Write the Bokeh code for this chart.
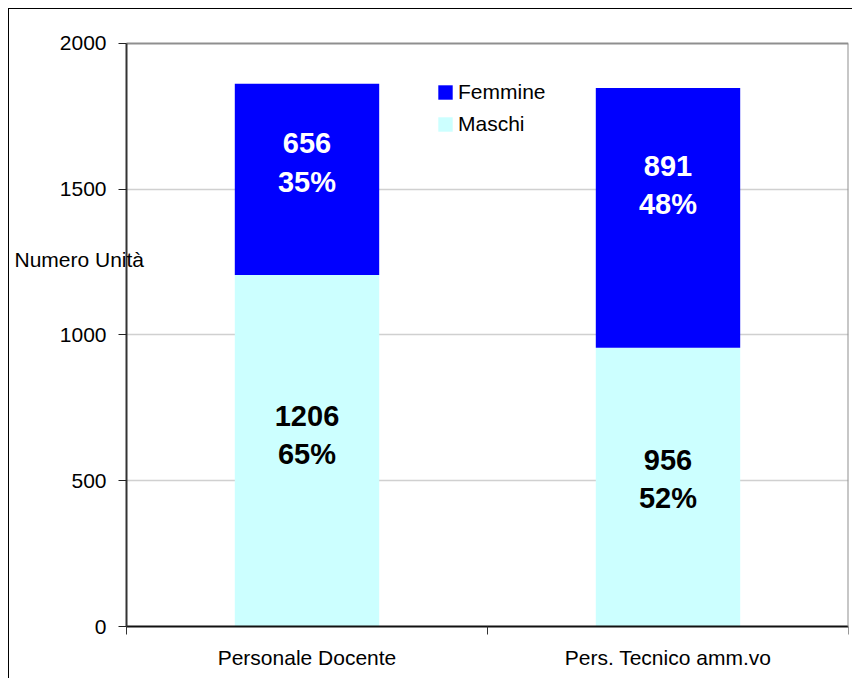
from bokeh.plotting import figure
from bokeh.models import (ColumnDataSource, FixedTicker, Legend, LegendItem, Label,
                          Range1d, LinearAxis)
from bokeh.core.properties import value
from bokeh.embed import file_html
from bokeh.resources import INLINE

categories = ["Personale Docente", "Pers. Tecnico amm.vo"]
maschi = [1206, 956]
femmine = [656, 891]
maschi_pct = ["65%", "52%"]
femmine_pct = ["35%", "48%"]
y_ticks = [0, 500, 1000, 1500, 2000]
y_max = 2000

FONT = "Liberation Sans"
C_M = "#CCFFFF"
C_F = "#0000FF"
AXIS_GRAY = "#8f8f8f"

n = len(categories)
xc = [i + 0.5 for i in range(n)]
src = ColumnDataSource(dict(x=xc, maschi=maschi, femmine=femmine))

# the frame covers the whole canvas; axes are pinned at x=0 / y=0 inside it
p = figure(width=844, height=670,
           x_range=Range1d(-0.3241, n), y_range=Range1d(-181.8, 2116.6),
           output_backend="svg", toolbar_location=None,
           min_border_left=0, min_border_right=5, min_border_top=0, min_border_bottom=0)
p.styles = {"margin-left": "8px", "margin-top": "8px",
            "border-left": "1px solid #000", "border-top": "1px solid #000"}
p.outline_line_color = None

r = p.vbar_stack(["maschi", "femmine"], x="x", width=0.4, source=src,
                 fill_color=[C_M, C_F], line_color=None)

# value labels
lab = ColumnDataSource(dict(
    x=xc + xc,
    y=[m / 2 for m in maschi] + [m + f / 2 for m, f in zip(maschi, femmine)],
    text=[f"{m}\n{pc}" for m, pc in zip(maschi, maschi_pct)] +
         [f"{f}\n{pc}" for f, pc in zip(femmine, femmine_pct)],
    color=["#000000"] * len(maschi) + ["#FFFFFF"] * len(femmine),
    dy=[-16, -8, -17, -33],
))
p.text(x="x", y="y", text="text", source=lab, text_color="color",
       text_font=value(FONT), text_font_size="29px", text_font_style="bold",
       text_align="center", text_baseline="middle", y_offset="dy",
       text_line_height=1.2)

# x axis (categories at centers, separators as minor ticks)
xa = p.xaxis[0]
xa.fixed_location = 0
xa.ticker = FixedTicker(ticks=xc, minor_ticks=list(range(n + 1)))
xa.major_label_overrides = {xi: c for xi, c in zip(xc, categories)}
xa.bounds = (0, n)
xa.major_tick_out = 0
xa.major_tick_in = 0
xa.minor_tick_out = 8
xa.minor_tick_in = 0
xa.minor_tick_line_color = "#333333"
xa.axis_line_color = "#111111"
xa.axis_line_width = 2
xa.major_label_standoff = 11
xa.major_label_text_font = FONT
xa.major_label_text_font_size = "21px"
xa.major_label_text_color = "#000000"

# y axis fixed at x = 0
ya = p.yaxis[0]
ya.fixed_location = 0
ya.bounds = (0, y_max)
ya.ticker = FixedTicker(ticks=y_ticks)
ya.major_tick_out = 8
ya.major_tick_in = 0
ya.major_tick_line_color = "#222222"
ya.minor_tick_line_color = None
ya.axis_line_color = "#333333"
ya.axis_line_width = 2
ya.major_label_standoff = 12
ya.major_label_text_font = FONT
ya.major_label_text_font_size = "21px"
ya.major_label_text_color = "#000000"

# plot-area border (top and right)
right_ax = LinearAxis(fixed_location=n, ticker=FixedTicker(ticks=[]), bounds=(0, y_max),
                      axis_line_color=AXIS_GRAY, axis_line_width=2,
                      major_tick_line_color=None, minor_tick_line_color=None,
                      major_label_text_alpha=0)
p.add_layout(right_ax, "right")
top_ax = LinearAxis(fixed_location=y_max, ticker=FixedTicker(ticks=[]), bounds=(0, n),
                    axis_line_color=AXIS_GRAY, axis_line_width=2,
                    major_tick_line_color=None, minor_tick_line_color=None,
                    major_label_text_alpha=0)
p.add_layout(top_ax, "above")

p.xgrid.visible = False
p.ygrid.ticker = FixedTicker(ticks=y_ticks[1:-1])
p.ygrid.cross_bounds = (0, n)
p.ygrid.grid_line_color = "#D0D0D0"
p.ygrid.grid_line_width = 1.5

legend = Legend(items=[LegendItem(label="Femmine", renderers=[r[1]]),
                       LegendItem(label="Maschi", renderers=[r[0]])],
                location=(427, 539), orientation="vertical",
                glyph_width=18, glyph_height=18, label_standoff=4,
                padding=0, margin=0, spacing=0, label_height=32,
                border_line_color=None, background_fill_alpha=0,
                label_text_font=FONT, label_text_font_size="21px",
                label_text_color="#000000")
p.add_layout(legend)

p.add_layout(Label(x=0, y=1260, x_offset=-112, text="Numero Unità",
                   text_font=FONT, text_font_size="21px", text_color="#000000",
                   text_baseline="middle", text_align="left"))

open("out.html", "w").write(file_html(p, INLINE))
